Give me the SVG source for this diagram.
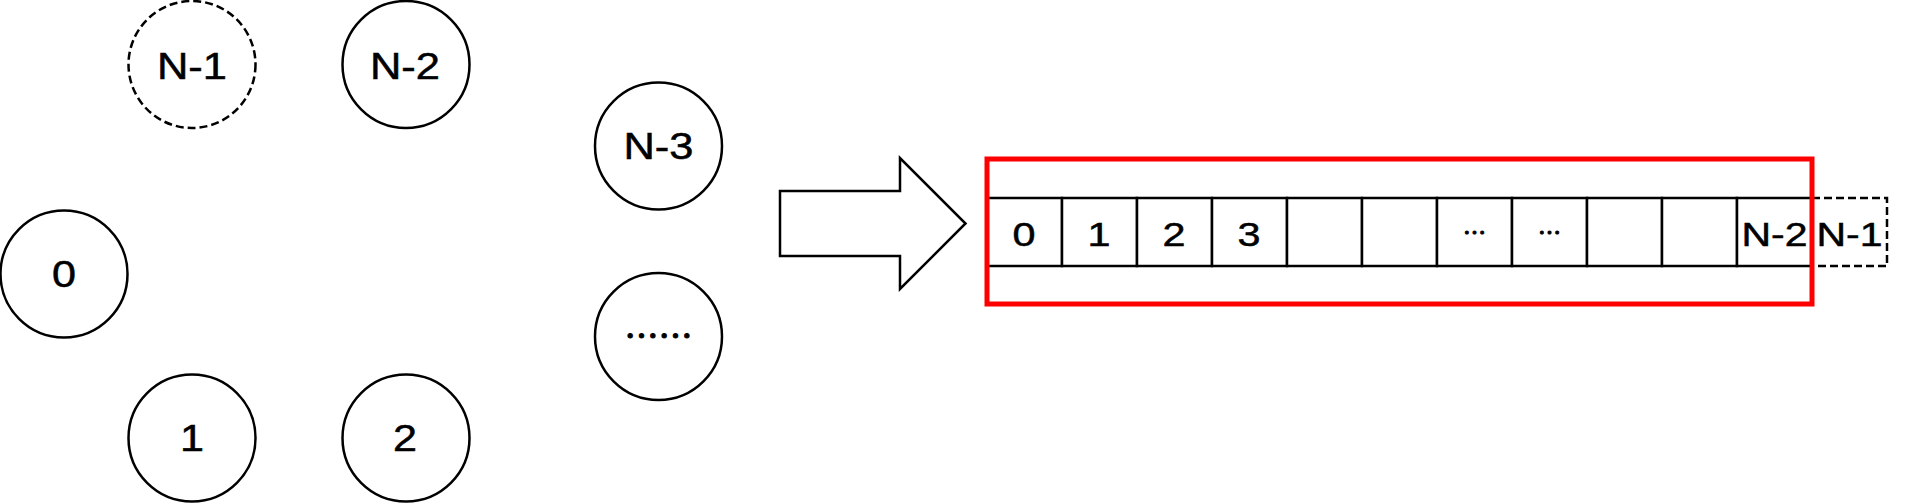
<svg xmlns="http://www.w3.org/2000/svg" width="1906" height="503" viewBox="0 0 1906 503">
<style>
.n{fill:#fff;stroke:#000;stroke-width:2.5}
.d{stroke-dasharray:8 4}
.t{font-family:"Liberation Sans",Arial,sans-serif;font-size:36px;text-anchor:middle;fill:#000;stroke:#000;stroke-width:0.5}
.c{font-size:33px}
.k{font-family:"Noto Sans CJK SC",sans-serif;text-anchor:middle;fill:#000;stroke:#000;stroke-width:1}
.r{fill:none;stroke:#ff0000;stroke-width:5}
</style>
<rect width="1906" height="503" fill="#fff"/>
<g id="node-n1"><circle class="n d" cx="192" cy="64.5" r="63.5"/><text class="t" x="192" y="78.5" textLength="70" lengthAdjust="spacingAndGlyphs">N-1</text></g>
<g id="node-n2"><circle class="n" cx="406" cy="64.5" r="63.5"/><text class="t" x="405" y="78.5" textLength="70" lengthAdjust="spacingAndGlyphs">N-2</text></g>
<g id="node-n3"><circle class="n" cx="658.5" cy="146" r="63.5"/><text class="t" x="658.5" y="158.5" textLength="70" lengthAdjust="spacingAndGlyphs">N-3</text></g>
<g id="node-more"><circle class="n" cx="658.5" cy="336.5" r="63.5"/><text class="k" x="658.5" y="348.5" font-size="34">……</text></g>
<g id="node-0"><circle class="n" cx="64" cy="274" r="63.5"/><text class="t" x="64" y="286.5" textLength="24" lengthAdjust="spacingAndGlyphs">0</text></g>
<g id="node-1"><circle class="n" cx="192" cy="438" r="63.5"/><text class="t" x="192" y="451" textLength="24" lengthAdjust="spacingAndGlyphs">1</text></g>
<g id="node-2"><circle class="n" cx="406" cy="438" r="63.5"/><text class="t" x="405" y="451" textLength="24" lengthAdjust="spacingAndGlyphs">2</text></g>
<g id="connectors">
<g id="arrow"><path class="n" d="M780,191 L900,191 L900,158 L965.5,223.5 L900,289 L900,256 L780,256 Z"/></g>
</g>
<g id="array">
<g id="cell-0"><rect class="n" x="987" y="198" width="75" height="68"/><text class="t c" x="1024" y="246" textLength="23" lengthAdjust="spacingAndGlyphs">0</text></g>
<g id="cell-1"><rect class="n" x="1062" y="198" width="75" height="68"/><text class="t c" x="1099" y="246" textLength="23" lengthAdjust="spacingAndGlyphs">1</text></g>
<g id="cell-2"><rect class="n" x="1137" y="198" width="75" height="68"/><text class="t c" x="1174" y="246" textLength="23" lengthAdjust="spacingAndGlyphs">2</text></g>
<g id="cell-3"><rect class="n" x="1212" y="198" width="75" height="68"/><text class="t c" x="1249" y="246" textLength="23" lengthAdjust="spacingAndGlyphs">3</text></g>
<g id="cell-4"><rect class="n" x="1287" y="198" width="75" height="68"/></g>
<g id="cell-5"><rect class="n" x="1362" y="198" width="75" height="68"/></g>
<g id="cell-6"><rect class="n" x="1437" y="198" width="75" height="68"/><text class="k" x="1474.5" y="241" font-size="23">…</text></g>
<g id="cell-7"><rect class="n" x="1512" y="198" width="75" height="68"/><text class="k" x="1549.5" y="241" font-size="23">…</text></g>
<g id="cell-8"><rect class="n" x="1587" y="198" width="75" height="68"/></g>
<g id="cell-9"><rect class="n" x="1662" y="198" width="75" height="68"/></g>
<g id="cell-n2"><rect class="n" x="1737" y="198" width="75" height="68"/><text class="t c" x="1774.5" y="246" textLength="66" lengthAdjust="spacingAndGlyphs">N-2</text></g>
<g id="cell-n1"><rect class="n d" x="1812" y="198" width="75" height="68"/><text class="t c" x="1849.5" y="246" textLength="66" lengthAdjust="spacingAndGlyphs">N-1</text></g>
</g>
<g id="highlight"><rect class="r" x="987" y="159" width="825" height="145"/></g>
</svg>
